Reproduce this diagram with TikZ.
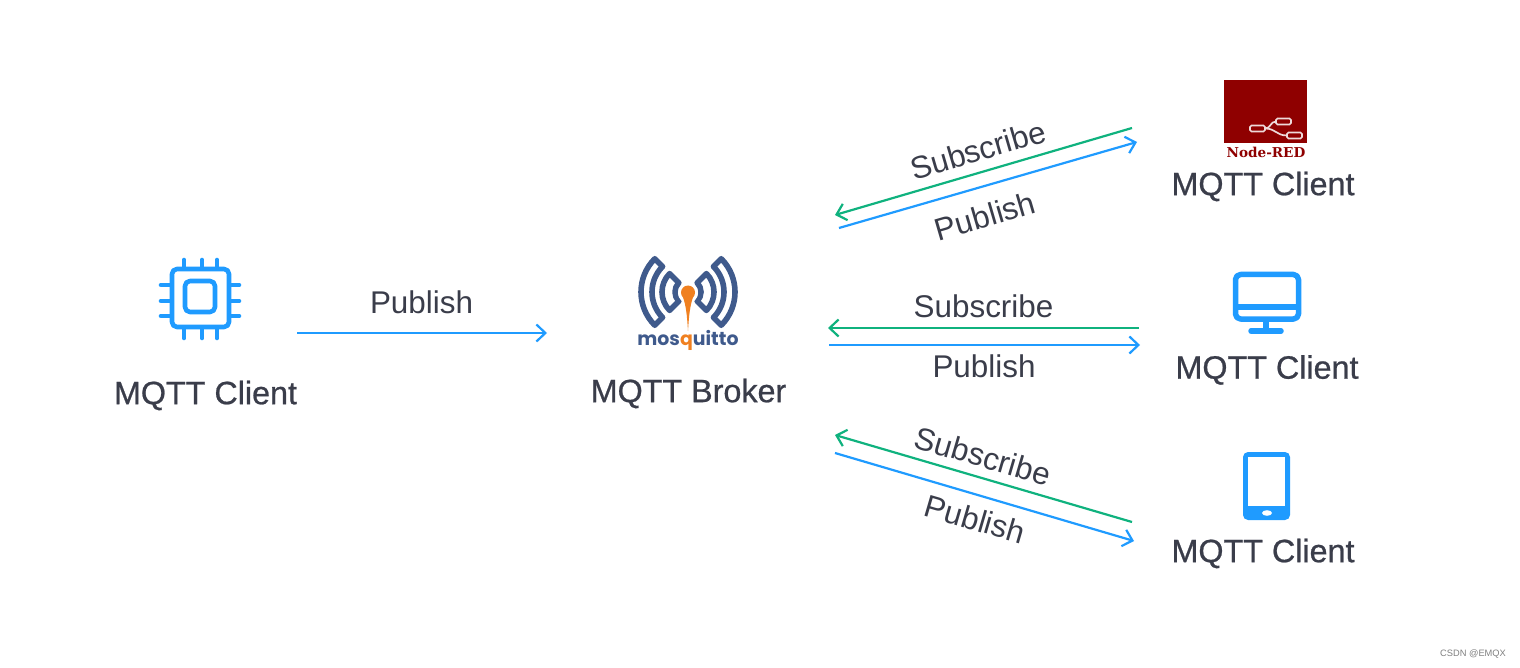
\documentclass[tikz,border=0pt]{standalone}
\usepackage{fontspec}
\setmainfont{Liberation Sans}
\newfontfamily\nrfont{DejaVu Serif}
\newfontfamily\mosfont{Poppins}
\newfontfamily\titlefont[FakeBold=0.7]{Liberation Sans}
\usetikzlibrary{arrows.meta}
\definecolor{blu}{HTML}{1F9BFF}
\definecolor{grn}{HTML}{0FB27E}
\definecolor{ink}{HTML}{3A3D4A}
\definecolor{nred}{HTML}{8F0000}
\definecolor{mosb}{HTML}{3F5A8C}
\definecolor{moso}{HTML}{F08020}
\tikzset{
 x=1pt,y=-1pt,
 icon/.style={draw=blu,line width=4.6pt,line cap=round,line join=round},
 pubarrow/.style={draw=blu,line width=2.2pt,-{Straight Barb[length=9pt,width=17pt,line width=2.2pt]}},
 subarrow/.style={draw=grn,line width=2.2pt,-{Straight Barb[length=9pt,width=17pt,line width=2.2pt]}},
 title/.style={text=ink,font=\titlefont\fontsize{32.3}{33}\selectfont,inner sep=0pt,anchor=center},
 lbl/.style={text=ink,font=\fontsize{31.4}{32}\selectfont,inner sep=0pt,anchor=center},
 moswave/.style={draw=mosb,line width=5.6pt,line join=round},
}
\begin{document}
\begin{tikzpicture}
\useasboundingbox (0,0) rectangle (1520,668);
\fill[white] (0,0) rectangle (1520,668);
% chip
\draw[icon,rounded corners=5pt] (172,269) rectangle (229,327);
\draw[icon,rounded corners=5pt] (185,281) rectangle (215,312);
\foreach \p in {184,202,217}{\draw[icon] (\p,260)--(\p,267);\draw[icon] (\p,329)--(\p,338);}
\foreach \p in {285,301,316}{\draw[icon] (161,\p)--(170,\p);\draw[icon] (231,\p)--(239,\p);}
% monitor
\draw[icon,line width=5.5pt,rounded corners=5pt] (1235.5,274.5) rectangle (1298.5,319);
\draw[icon,line width=5.5pt] (1236,307)--(1298,307);
\draw[icon,line width=5.5pt,line cap=butt] (1266,321)--(1266,331);
\draw[icon,line width=5.5pt] (1251,331)--(1281,331);
% tablet
\fill[blu,rounded corners=5pt] (1243,452) rectangle (1290,520);
\fill[white] (1248,457) rectangle (1285,506);
\fill[white] (1267,513) ellipse [x radius=5pt,y radius=2.8pt];
% node-red
\fill[nred] (1224,80) rectangle (1307,143);
\begin{scope}[draw=white!85!nred,line width=1.7pt]
\draw[rounded corners=1.5pt] (1250,125.5) rectangle (1265,131.5);
\draw[rounded corners=1.5pt] (1276,118.5) rectangle (1291,124.5);
\draw[rounded corners=1.5pt] (1287,132.5) rectangle (1302,138.5);
\draw (1265,128.5) .. controls (1271,128.5) and (1270,121.5) .. (1276,121.5);
\draw (1265,128.5) .. controls (1276,128.5) and (1276,135.5) .. (1287,135.5);
\end{scope}
\node[text=nred,inner sep=0pt,font=\nrfont\bfseries\fontsize{13.6}{14}\selectfont] (nr) at (1266,152.5) {Node-RED};
% mosquitto
\begin{scope}[shift={(688,292)}]
\foreach \s in {1,-1}{
\begin{scope}[xscale=\s]
\draw[moswave] (135:47pt) arc[start angle=135,end angle=225,radius=47pt]
  -- (225:36pt) arc[start angle=225,end angle=135,radius=36pt] -- cycle;
\draw[moswave] (135:26pt) arc[start angle=135,end angle=225,radius=26pt]
  -- (225:13pt) arc[start angle=225,end angle=135,radius=13pt] -- cycle;
\end{scope}}
\end{scope}
\fill[white] (688,293) circle (10pt);
\fill[moso] (688,292.5) circle (7pt);
\fill[moso] (682.5,296) .. controls (686,305) and (687,315) .. (688,331) .. controls (689,315) and (690,305) .. (693.5,296) -- cycle;
\node[text=mosb,inner sep=0pt,font=\mosfont\bfseries\fontsize{18.9}{19}\selectfont] (mos) at (688,340) {mos\textcolor{moso}{q}uitto};
% titles
\node[title] (c1) at (205.5,395.5) {MQTT Client};
\node[title] (brk) at (688.5,393.5) {MQTT Broker};
\node[title] (c2) at (1263,186.5) {MQTT Client};
\node[title] (c3) at (1267,370) {MQTT Client};
\node[title] (c4) at (1263,553.5) {MQTT Client};
% coordinates
\coordinate (a1s) at (297,333); \coordinate (a1e) at (547,333);
\coordinate (s1s) at (1132,128); \coordinate (s1e) at (835,215);
\coordinate (p1s) at (839,228); \coordinate (p1e) at (1137,142);
\coordinate (s2s) at (1139,328); \coordinate (s2e) at (828,328);
\coordinate (p2s) at (829,345); \coordinate (p2e) at (1140,345);
\coordinate (s3s) at (1132,522); \coordinate (s3e) at (835,435);
\coordinate (p3s) at (835,453); \coordinate (p3e) at (1134,541);
\draw[pubarrow] (a1s)--(a1e);
\draw[subarrow] (s1s)--(s1e);
\draw[pubarrow] (p1s)--(p1e);
\draw[subarrow] (s2s)--(s2e);
\draw[pubarrow] (p2s)--(p2e);
\draw[subarrow] (s3s)--(s3e);
\draw[pubarrow] (p3s)--(p3e);
\node[lbl] (l1) at (421.5,302) {Publish};
\node[lbl,rotate=16.3] (l2) at (978,150) {Subscribe};
\node[lbl,rotate=16.3] (l3) at (985,216) {Publish};
\node[lbl] (l4) at (983.5,306) {Subscribe};
\node[lbl] (l5) at (984,366) {Publish};
\node[lbl,rotate=-16.3] (l6) at (983,456) {Subscribe};
\node[lbl,rotate=-16.3] (l7) at (975,519) {Publish};
\node[text=black!50,inner sep=0pt,font=\fontsize{9.3}{10}\selectfont] (wm) at (1473,654) {CSDN @EMQX};
\end{tikzpicture}
\end{document}
